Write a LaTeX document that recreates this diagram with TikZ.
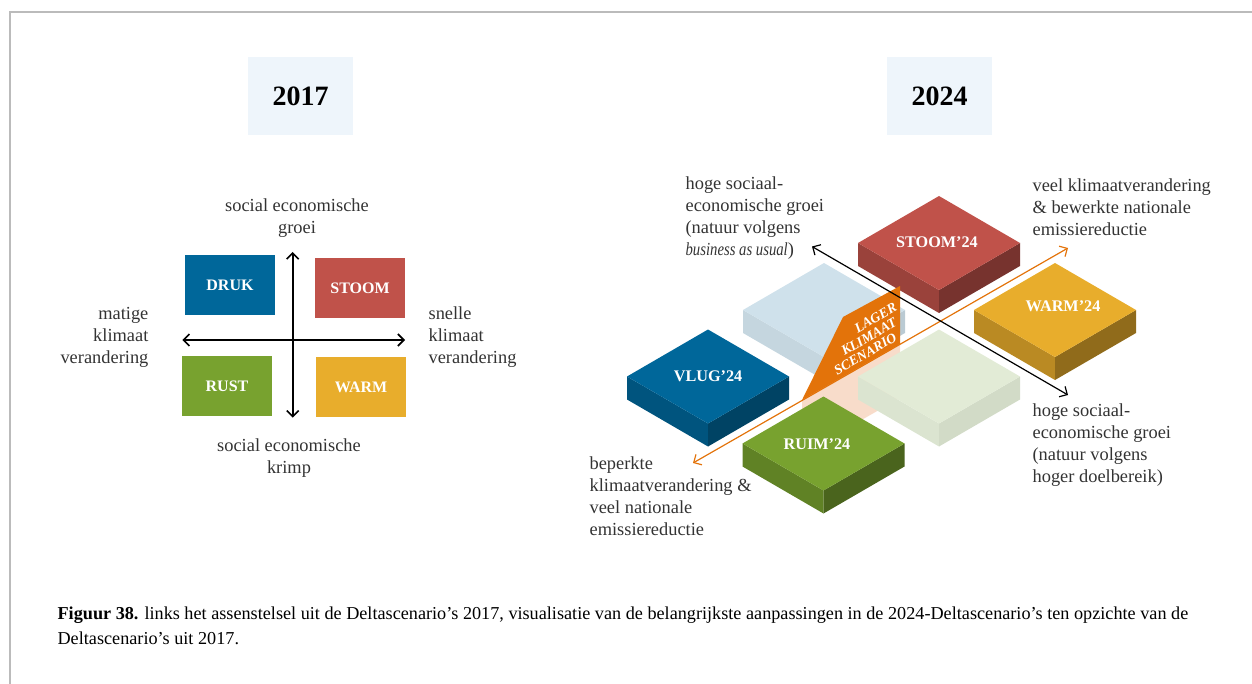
\documentclass[tikz,border=0pt]{standalone}
\usepackage{fontspec}
\setmainfont{Liberation Serif}
\usetikzlibrary{arrows.meta}

\definecolor{drukblue}{HTML}{00679A}
\definecolor{stoomred}{HTML}{C0524A}
\definecolor{rustgreen}{HTML}{78A22F}
\definecolor{warmyellow}{HTML}{E8AD2C}
\definecolor{titlebg}{HTML}{EEF5FB}
\definecolor{framegray}{HTML}{BBBBBB}
\definecolor{tagorange}{HTML}{E3730A}
\definecolor{peach}{HTML}{F8DCCA}
\definecolor{ghostblue}{HTML}{CFE1EB}
\definecolor{ghostgreen}{HTML}{E2EBD6}
\definecolor{textgray}{HTML}{333333}

% isometric block: centre of top face, top, left and right colour
\newcommand{\isoblock}[4]{%
  \fill[#3] (#1) ++(-81,0) -- ++(81,47) -- ++(0,23) -- ++(-81,-47) -- cycle;
  \fill[#4] (#1) ++(0,47) -- ++(81,-47) -- ++(0,23) -- ++(-81,47) -- cycle;
  \fill[#2] (#1) ++(0,-47) -- ++(81,47) -- ++(-81,47) -- ++(-81,-47) -- cycle;}

\begin{document}
\begin{tikzpicture}[x=.5pt,y=-.5pt,line width=.6pt,
  font=\fontsize{9.2}{11}\selectfont,
  >={Straight Barb[length=3pt,width=6pt]},
  yearbox/.style={fill=titlebg,minimum width=52.5pt,minimum height=39pt,font=\fontsize{14}{16}\selectfont\bfseries},
  quad/.style={minimum width=45pt,minimum height=30pt,inner sep=0pt,text=white,font=\fontsize{8}{9}\selectfont\bfseries},
  blocklbl/.style={text=white,inner sep=0pt,font=\fontsize{8.1}{9}\selectfont\bfseries},
  taglbl/.style={text=white,inner sep=0pt,anchor=east,rotate=30,font=\fontsize{6.9}{7}\selectfont\bfseries\itshape},
  axlbl/.style={text=textgray,inner sep=0pt}]
\useasboundingbox (0,0) rectangle (1252,684);
\draw[framegray,line width=1pt] (10,684)--(10,12)--(1252,12);

\node[yearbox] (y2017) at (300.5,96) {2017};
\node[yearbox] (y2024) at (939.5,96) {2024};

% 2017
\node[quad,fill=drukblue] (druk) at (230,285.3) {DRUK};
\node[quad,fill=stoomred] (stoom) at (360,288.3) {STOOM};
\node[quad,fill=rustgreen] (rust) at (227,386.3) {RUST};
\node[quad,fill=warmyellow] (warm) at (361,387.3) {WARM};
\coordinate (ytop) at (292.7,252);
\coordinate (ybot) at (292.7,417.7);
\coordinate (xleft) at (182.3,340);
\coordinate (xright) at (405,340);
\draw[<->,line width=.8pt] (ybot)--(ytop);
\draw[<->,line width=.8pt] (xleft)--(xright);
\node[axlbl,align=center] (groei) at (297,218) {social economische\\groei};
\node[axlbl,align=center] (krimp) at (289,458) {social economische\\krimp};
\node[axlbl,align=right,anchor=east] (matig) at (149,337) {matige\\klimaat\\verandering};
\node[axlbl,align=left,anchor=west] (snel) at (428,337) {snelle\\klimaat\\verandering};

% 2024
\isoblock{939,243}{stoomred}{stoomred!80!black}{stoomred!62!black}
\isoblock{824,310}{ghostblue}{ghostblue!95!black}{ghostblue!90!black}
\isoblock{1055,310}{warmyellow}{warmyellow!80!black}{warmyellow!62!black}
\fill[peach] (802,400)--(900,344)--(900,398)--(802,454)--cycle;
\fill[tagorange] (843,317)--(900,286)--(900,344)--(802,400)--cycle;
\isoblock{939,376.5}{ghostgreen}{ghostgreen!97!black}{ghostgreen!93!black}
\isoblock{708,376.5}{drukblue}{drukblue!82!black}{drukblue!65!black}
\isoblock{823.5,443.5}{rustgreen}{rustgreen!80!black}{rustgreen!62!black}

\node[blocklbl] (stoom24) at (937,242) {STOOM’24};
\node[blocklbl] (warm24) at (1063,306) {WARM’24};
\node[blocklbl] (vlug24) at (708,376) {VLUG’24};
\node[blocklbl] (ruim24) at (817,444) {RUIM’24};
\node[taglbl] (lager) at (896,306) {LAGER};
\node[taglbl] (klimaat) at (896,321) {KLIMAAT};
\node[taglbl] (scenario) at (896,336) {SCENARIO};

\coordinate (klimSW) at (693,463);
\coordinate (klimNE) at (1068,248);
\coordinate (groeiNW) at (812,246.5);
\coordinate (groeiSE) at (1068,395);
\draw[<->,tagorange] (klimSW)--(klimNE);
\draw[<->] (groeiNW)--(groeiSE);

\node[axlbl,align=left,anchor=west] (veel) at (1032,207) {veel klimaatverandering\\\& bewerkte nationale\\emissiereductie};
\node[axlbl,align=left,anchor=west] (hogeSE) at (1032,445) {hoge sociaal-\\economische groei\\(natuur volgens\\hoger doelbereik)};
\node[axlbl,align=left,anchor=west] (hogeNW) at (685,218.5) {hoge sociaal-\\economische groei\\(natuur volgens\\\scalebox{.8}[1]{\textit{business as usual}})};
\node[axlbl,align=left,anchor=west] (beperkt) at (589,496.5) {beperkte\\klimaatverandering \&\\veel nationale\\emissiereductie};

\node[anchor=west,align=left,inner sep=0pt,font=\fontsize{9.1}{12.5}\selectfont] (caption) at (57,625.5) {\textbf{Figuur 38.} links het assenstelsel uit de Deltascenario’s 2017, visualisatie van de belangrijkste aanpassingen in de 2024-Deltascenario’s ten opzichte van de\\Deltascenario’s uit 2017.};
\end{tikzpicture}
\end{document}
